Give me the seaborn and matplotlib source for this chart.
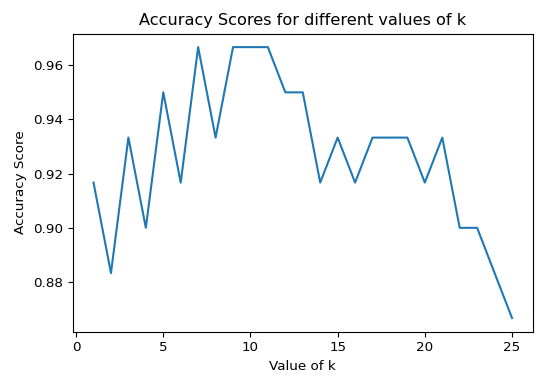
import matplotlib
matplotlib.use("Agg")
import matplotlib.pyplot as plt
import seaborn as sns
import pandas as pd

# accuracy for each k
k_values = list(range(1, 26))
scores = [0.9167, 0.8833, 0.9333, 0.9000, 0.9500, 0.9167, 0.9667, 0.9333,
          0.9667, 0.9667, 0.9667, 0.9500, 0.9500, 0.9167, 0.9333, 0.9167,
          0.9333, 0.9333, 0.9333, 0.9167, 0.9333, 0.9000, 0.9000, 0.8833,
          0.8667]

df = pd.DataFrame({'k': k_values, 'score': scores})

plt.rcParams['font.size'] = 9.7
f, ax = plt.subplots(figsize=(5.5, 3.86), dpi=100)
f.subplots_adjust(left=0.132, right=0.969, top=0.913, bottom=0.141)

sns.lineplot(x='k', y='score', data=df, ax=ax, color='#1f77b4', linewidth=1.5)

ax.set_title('Accuracy Scores for different values of k', fontsize=11.6)
ax.set_xlabel('Value of k')
ax.set_ylabel('Accuracy Score')
ax.set_xticks([0, 5, 10, 15, 20, 25])
ax.set_yticks([0.88, 0.90, 0.92, 0.94, 0.96])

f.savefig('out.png', dpi=100)
